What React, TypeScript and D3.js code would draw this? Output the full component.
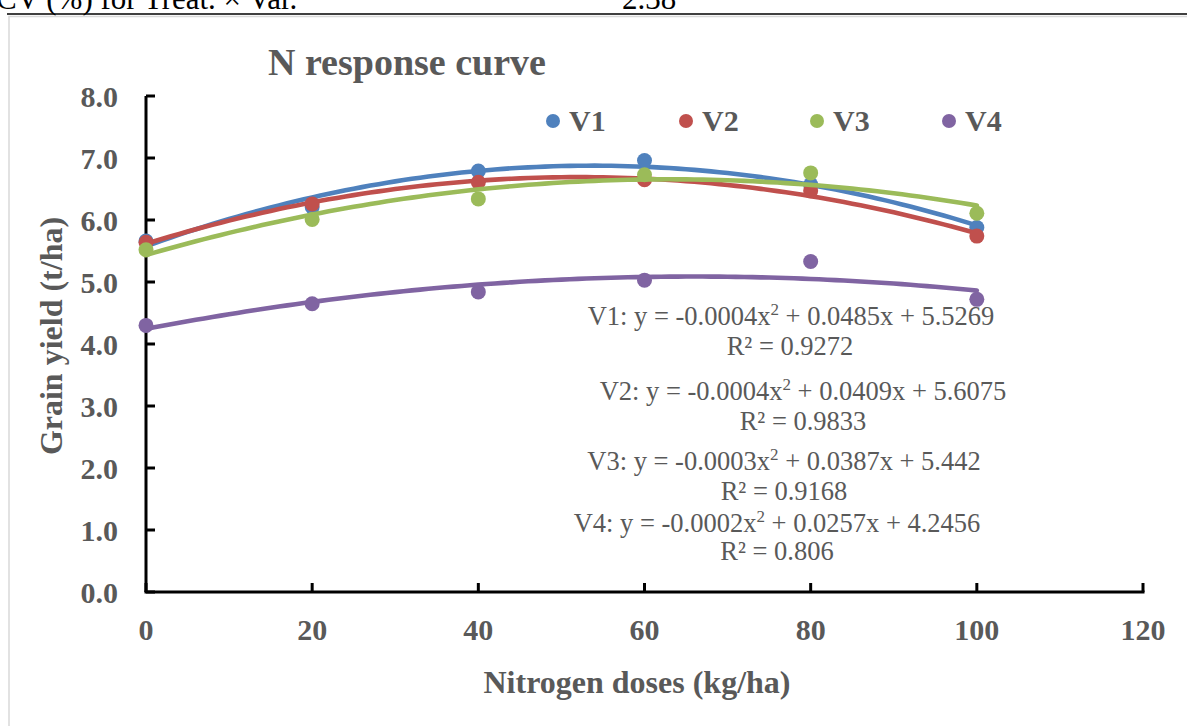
import React from "react";
import * as d3 from "d3";

const doses = [0, 20, 40, 60, 80, 100];
const seriesNames = ["V1", "V2", "V3", "V4"];
const v1 = [5.66, 6.21, 6.79, 6.96, 6.57, 5.88];
const v2 = [5.64, 6.26, 6.61, 6.65, 6.47, 5.74];
const v3 = [5.52, 6.01, 6.34, 6.73, 6.76, 6.11];
const v4 = [4.30, 4.65, 4.84, 5.03, 5.33, 4.72];
const seriesValues = [v1, v2, v3, v4];
const colors = ["#4F81BD", "#C0504D", "#9BBB59", "#8064A2"];
const yTicks = [0, 1, 2, 3, 4, 5, 6, 7, 8];
const xTicks = [0, 20, 40, 60, 80, 100, 120];
const equations = [
  { name: "V1", a: "-0.0004", b: "0.0485", c: "5.5269", r2: "0.9272" },
  { name: "V2", a: "-0.0004", b: "0.0409", c: "5.6075", r2: "0.9833" },
  { name: "V3", a: "-0.0003", b: "0.0387", c: "5.442", r2: "0.9168" },
  { name: "V4", a: "-0.0002", b: "0.0257", c: "4.2456", r2: "0.806" },
];
const eqPos = [
  { x: 791, y: 325, rx: 790, ry: 355 },
  { x: 803, y: 400, rx: 803, ry: 430 },
  { x: 784, y: 470, rx: 784, ry: 500 },
  { x: 777, y: 532, rx: 777, ry: 560 },
];

// least-squares quadratic fit (Excel polynomial trendline, order 2)
function quadFit(xs: number[], ys: number[]) {
  const n = xs.length;
  let s0 = n, s1 = 0, s2 = 0, s3 = 0, s4 = 0, t0 = 0, t1 = 0, t2 = 0;
  for (let i = 0; i < n; i++) {
    const x = xs[i], y = ys[i];
    s1 += x; s2 += x * x; s3 += x ** 3; s4 += x ** 4;
    t0 += y; t1 += x * y; t2 += x * x * y;
  }
  const M = [
    [s0, s1, s2, t0],
    [s1, s2, s3, t1],
    [s2, s3, s4, t2],
  ];
  for (let i = 0; i < 3; i++) {
    let p = i;
    for (let r = i + 1; r < 3; r++) if (Math.abs(M[r][i]) > Math.abs(M[p][i])) p = r;
    [M[i], M[p]] = [M[p], M[i]];
    for (let r = 0; r < 3; r++) {
      if (r === i) continue;
      const f = M[r][i] / M[i][i];
      for (let c = i; c < 4; c++) M[r][c] -= f * M[i][c];
    }
  }
  const c0 = M[0][3] / M[0][0], c1 = M[1][3] / M[1][1], c2 = M[2][3] / M[2][2];
  return (x: number) => c0 + c1 * x + c2 * x * x;
}

const FONT = "'Liberation Serif', 'Times New Roman', serif";
const GRAY = "#595959";

export default function App() {
  const x = d3.scaleLinear().domain([0, 120]).range([146, 1143]);
  const y = d3.scaleLinear().domain([0, 8]).range([592, 96]);
  const sample = d3.range(0, 100.5, 1);

  return (
    <svg
      width={1187}
      height={726}
      style={{ position: "absolute", left: 0, top: 0, background: "#fff" }}
      fontFamily={FONT}
    >
      <rect x={0} y={0} width={1187} height={726} fill="#fff" />
      {/* table fragment above */}
      <text x={-4} y={9} fontSize={31} fill="#000">CV (%) for Treat. × Var.</text>
      <text x={622} y={9} fontSize={31} fill="#000">2.38</text>
      <line x1={7} x2={1187} y1={14} y2={14} stroke="#000" strokeWidth={1.6} />
      {/* chart border */}
      <rect x={9} y={16.5} width={1200} height={720} fill="none" stroke="#d9d9d9" strokeWidth={1.5} />

      {/* title */}
      <text x={268} y={75} fontSize={38} fontWeight="bold" fill={GRAY}>N response curve</text>

      {/* axes */}
      <line x1={x(0)} x2={x(0)} y1={y(8)} y2={y(0)} stroke="#000" strokeWidth={3} />
      <line x1={x(0) - 1.5} x2={x(120) + 1.5} y1={y(0)} y2={y(0)} stroke="#000" strokeWidth={3} />
      {yTicks.map((t) => (
        <g key={"yt" + t}>
          <line x1={x(0)} x2={x(0) + 9} y1={y(t)} y2={y(t)} stroke="#000" strokeWidth={3} />
          <text x={118} y={y(t)} dy="0.35em" textAnchor="end" fontSize={30} fontWeight="bold" fill={GRAY}>
            {d3.format(".1f")(t)}
          </text>
        </g>
      ))}
      {xTicks.map((t) => (
        <g key={"xt" + t}>
          <line x1={x(t)} x2={x(t)} y1={y(0)} y2={y(0) - 9} stroke="#000" strokeWidth={3} />
          <text x={x(t)} y={640} textAnchor="middle" fontSize={30} fontWeight="bold" fill={GRAY}>
            {t}
          </text>
        </g>
      ))}

      {/* axis titles */}
      <text x={637} y={693} textAnchor="middle" fontSize={32} fontWeight="bold" fill={GRAY}>
        Nitrogen doses (kg/ha)
      </text>
      <text
        transform="translate(62,336) rotate(-90)"
        textAnchor="middle"
        fontSize={32}
        fontWeight="bold"
        fill={GRAY}
      >
        Grain yield (t/ha)
      </text>

      {/* series */}
      {seriesValues.map((vals, si) => {
        const f = quadFit(doses, vals);
        const line = d3
          .line<number>()
          .x((d) => x(d))
          .y((d) => y(f(d)))
          .curve(d3.curveLinear);
        return (
          <g key={"s" + si}>
            <path d={line(sample) || ""} fill="none" stroke={colors[si]} strokeWidth={4.6} strokeLinecap="round" />
            {vals.map((v, i) => (
              <circle key={i} cx={x(doses[i])} cy={y(v)} r={7.5} fill={colors[si]} />
            ))}
          </g>
        );
      })}

      {/* legend */}
      {seriesNames.map((nm, i) => {
        const lx = [553, 686, 817, 949][i];
        return (
          <g key={"lg" + i}>
            <circle cx={lx} cy={121} r={7} fill={colors[i]} />
            <text x={lx + 16} y={131} fontSize={30} fontWeight="bold" fill={GRAY}>{nm}</text>
          </g>
        );
      })}

      {/* equations */}
      {equations.map((e, i) => (
        <g key={"eq" + i} fill={GRAY} fontSize={26.5}>
          <text x={eqPos[i].x} y={eqPos[i].y} textAnchor="middle">
            <tspan>{`${e.name}: y = ${e.a}x`}</tspan>
            <tspan dy={-10} fontSize={17}>2</tspan>
            <tspan dy={10}>{` + ${e.b}x + ${e.c}`}</tspan>
          </text>
          <text x={eqPos[i].rx} y={eqPos[i].ry} textAnchor="middle">
            {`R² = ${e.r2}`}
          </text>
        </g>
      ))}
    </svg>
  );
}
